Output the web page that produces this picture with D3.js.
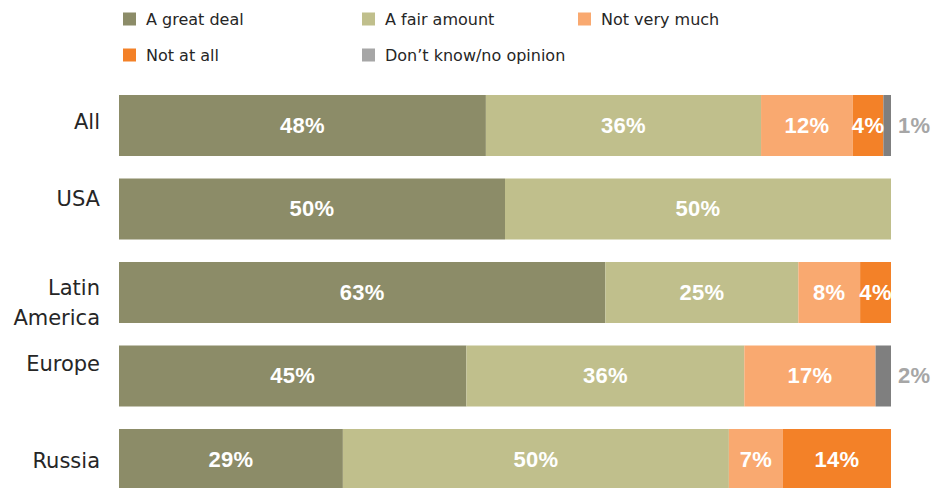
<!DOCTYPE html>
<html>
<head>
<meta charset="utf-8">
<script src="https://cdn.jsdelivr.net/npm/d3@7"></script>
<style>
  html, body { margin: 0; padding: 0; background: #fff; }
  svg { display: block; }
</style>
</head>
<body>
<svg id="chart" width="933" height="488"></svg>
<script>
// Regions (rows) and answer categories (stack order)
const regions = ["All", "USA", "Latin America", "Europe", "Russia"];
const answers = ["A great deal", "A fair amount", "Not very much", "Not at all", "Don\u2019t know/no opinion"];

// Percent answering each option, per region
const greatDeal  = [48, 50, 63, 45, 29];
const fairAmount = [36, 50, 25, 36, 50];
const notVery    = [12, 0, 8, 17, 7];
const notAtAll   = [4, 0, 4, 0, 14];
const dontKnow   = [1, 0, 0, 2, 0];

const seriesValues = [greatDeal, fairAmount, notVery, notAtAll, dontKnow];

// Styling
const barColors    = ["#8c8c68", "#c0bf8c", "#f9a970", "#f38128", "#7f7f7f"];
const legendColors = ["#8c8c68", "#c0bf8c", "#f9a970", "#f38128", "#a6a6a6"];
const outsideLabelColor = "#a6a6a6";
const textFont = "'DejaVu Sans', sans-serif";
const valueFont = "'Liberation Sans', Arial, sans-serif";
// small vertical adjustments for the row captions
const captionNudge = [-4, -11, 10, -13, 1];

const svg = d3.select("#chart");

// Build rows for stacking
const rows = regions.map((r, i) => {
  const o = { region: r, total: 0 };
  answers.forEach((a, j) => { o[a] = seriesValues[j][i]; o.total += seriesValues[j][i]; });
  return o;
});

// Normalise each row to 100%
const normRows = rows.map(r => {
  const o = { region: r.region };
  answers.forEach(a => { o[a] = r[a] / r.total; });
  return o;
});
const stacked = d3.stack().keys(answers)(normRows);

const x = d3.scaleLinear().domain([0, 1]).range([119, 891]);
const step = 83.5, barH = 61;
const y = d3.scaleBand()
  .domain(regions)
  .range([95, 95 + (regions.length - 1) * step + barH])
  .paddingInner((step - barH) / step)
  .paddingOuter(0);

// Bars
const layers = svg.append("g").selectAll("g")
  .data(stacked)
  .join("g")
  .attr("fill", (d, i) => barColors[i]);

layers.selectAll("rect")
  .data(d => d.map(v => ({ v, key: d.key })))
  .join("rect")
  .filter(d => d.v[1] - d.v[0] > 0)
  .attr("x", d => x(d.v[0]))
  .attr("y", d => y(d.v.data.region))
  .attr("width", d => x(d.v[1]) - x(d.v[0]))
  .attr("height", y.bandwidth());

// Value labels
const labelG = svg.append("g")
  .attr("font-family", valueFont)
  .attr("font-weight", "bold")
  .attr("font-size", 22)
  .attr("letter-spacing", "0.3px");

stacked.forEach((layer, j) => {
  layer.forEach((v, i) => {
    const val = seriesValues[j][i];
    if (!val) return;
    const cy = y(regions[i]) + y.bandwidth() / 2;
    const inside = j < 4;
    labelG.append("text")
      .attr("x", inside ? (x(v[0]) + x(v[1])) / 2 : x(v[1]) + 7)
      .attr("y", cy)
      .attr("dy", "0.34em")
      .attr("text-anchor", inside ? "middle" : "start")
      .attr("fill", inside ? "#ffffff" : outsideLabelColor)
      .text(val + "%");
  });
});

// Row captions
const capG = svg.append("g")
  .attr("font-family", textFont)
  .attr("font-size", 21)
  .attr("fill", "#262626")
  .attr("text-anchor", "end");

regions.forEach((r, i) => {
  const words = r === "Latin America" ? ["Latin", "America"] : [r];
  const cy = y(r) + y.bandwidth() / 2 + captionNudge[i];
  const lineH = 30;
  const t = capG.append("text").attr("x", 100);
  words.forEach((w, k) => {
    t.append("tspan")
      .attr("x", 100)
      .attr("y", cy + (k - (words.length - 1) / 2) * lineH)
      .attr("dy", "0.36em")
      .text(w);
  });
});

// Legend
const legendCols = [123, 362, 578];
const legendRows = [19, 55];
const legG = svg.append("g")
  .attr("font-family", textFont)
  .attr("font-size", 16)
  .attr("fill", "#262626");

answers.forEach((a, i) => {
  const lx = legendCols[i % 3], ly = legendRows[Math.floor(i / 3)];
  legG.append("rect")
    .attr("x", lx).attr("y", ly - 6.5)
    .attr("width", 13).attr("height", 13)
    .attr("fill", legendColors[i]);
  legG.append("text")
    .attr("x", lx + 23).attr("y", ly)
    .attr("dy", "0.36em")
    .text(a);
});
</script>
</body>
</html>
